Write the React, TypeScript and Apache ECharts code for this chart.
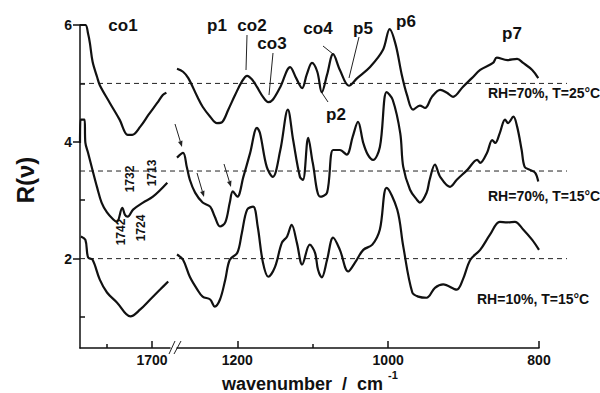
import React, { useEffect, useRef } from "react";
import * as echarts from "echarts";

// ---- data (wavenumber cm^-1, R(v)) ----
const yTickValues = [2, 4, 6];
const yMinorTickValues = [1, 3, 5];
const leftXTicks = [1700];
const leftXMinorTicks = [1750];
const rightXTicks = [1200, 1000, 800];
const rightXMinorTicks = [1100];
const baselines = [5, 3.5, 2];
const curveLabels = ["RH=70%, T=25°C", "RH=70%, T=15°C", "RH=10%, T=15°C"];
const peakLabels = ["co1", "p1", "co2", "co3", "co4", "p5", "p6", "p7", "p2"];
const bandLabels = ["1732", "1713", "1742", "1724"];

const topLeft = [
  [1780, 6.0], [1774, 6.0], [1771, 5.85], [1769, 5.69], [1766, 5.37], [1761, 5.11], [1758, 4.97],
  [1747, 4.67], [1736, 4.38], [1727, 4.12], [1722, 4.12], [1713, 4.26], [1704, 4.46], [1694, 4.67],
  [1688, 4.8], [1684, 4.84],
];
const topRight = [
  [1280, 5.25], [1272, 5.2], [1265, 5.09], [1253, 4.77], [1246, 4.6], [1236, 4.43], [1227, 4.32],
  [1220, 4.34], [1212, 4.55], [1203, 4.8], [1194, 5.03], [1187, 5.13], [1180, 5.06], [1174, 4.94],
  [1166, 4.77], [1159, 4.68], [1153, 4.72], [1143, 4.94], [1130, 5.28], [1122, 5.09], [1114, 4.92],
  [1108, 5.15], [1101, 5.35], [1094, 5.2], [1088, 4.85], [1081, 5.15], [1073, 5.5], [1064, 5.23],
  [1052, 4.96], [1041, 5.09], [1024, 5.28], [1007, 5.57], [998, 5.93], [990, 5.66], [982, 5.15],
  [975, 4.8], [967, 4.55], [958, 4.62], [951, 4.58], [942, 4.77], [931, 4.89], [922, 4.84],
  [914, 4.77], [901, 4.94], [889, 5.09], [878, 5.23], [861, 5.35], [856, 5.44], [842, 5.4],
  [829, 5.42], [821, 5.35], [809, 5.23], [801, 5.09],
];
const midLeft = [
  [1780, 3.98], [1779.5, 4.38], [1775, 4.38], [1774, 3.98], [1771, 3.81], [1767, 3.57], [1761, 3.22],
  [1756, 2.96], [1750, 2.79], [1743, 2.67], [1739, 2.63], [1733, 2.87], [1730, 2.75], [1727, 2.72],
  [1721, 2.84], [1710, 2.96], [1699, 3.06], [1683, 3.3],
];
const midRight = [
  [1280, 3.73], [1272, 3.81], [1267, 3.57], [1263, 3.35], [1256, 3.13], [1246, 2.96], [1236, 2.89],
  [1230, 2.72], [1223, 2.55], [1216, 2.62], [1210, 2.96], [1206, 3.15], [1200, 3.06], [1192, 3.4],
  [1183, 3.81], [1174, 4.24], [1170, 4.15], [1161, 3.57], [1153, 3.4], [1143, 3.86], [1133, 4.55],
  [1126, 4.03], [1117, 3.4], [1113, 3.35], [1106, 4.07], [1100, 3.64], [1090, 3.06], [1081, 3.13],
  [1073, 3.86], [1064, 3.86], [1055, 3.78], [1047, 4.09], [1040, 4.34], [1033, 3.98], [1027, 3.78],
  [1020, 3.69], [1011, 3.91], [1002, 4.85], [994, 4.72], [984, 4.15], [980, 3.57], [971, 3.18],
  [962, 3.01], [958, 2.96], [949, 3.13], [945, 3.35], [938, 3.61], [931, 3.4], [918, 3.23],
  [909, 3.35], [895, 3.52], [882, 3.69], [878, 3.64], [869, 3.81], [862, 4.03], [858, 3.98],
  [852, 4.15], [845, 4.38], [841, 4.32], [834, 4.43], [829, 4.26], [823, 3.86], [819, 3.57],
  [812, 3.52], [805, 3.47], [801, 3.32],
];
const botLeft = [
  [1779, 2.38], [1774, 2.32], [1771, 2.02], [1766, 1.98], [1758, 1.64], [1750, 1.42], [1739, 1.25],
  [1724, 1.01], [1713, 1.13], [1702, 1.3], [1691, 1.47], [1682, 1.61],
];
const botRight = [
  [1280, 2.07], [1272, 1.98], [1263, 1.69], [1253, 1.47], [1246, 1.35], [1236, 1.3], [1230, 1.18],
  [1223, 1.3], [1216, 1.64], [1210, 1.98], [1200, 2.1], [1194, 2.44], [1187, 2.84], [1179, 2.89],
  [1173, 2.55], [1166, 1.93], [1159, 1.69], [1150, 1.86], [1141, 2.27], [1134, 2.38], [1128, 2.58],
  [1121, 2.27], [1114, 1.9], [1104, 2.24], [1097, 2.1], [1093, 1.81], [1088, 1.68], [1081, 1.98],
  [1073, 2.36], [1064, 2.15], [1053, 1.78], [1044, 1.93], [1033, 2.15], [1021, 2.24], [1011, 2.5],
  [1002, 3.21], [988, 2.84], [980, 2.21], [968, 1.42], [960, 1.35], [949, 1.33], [938, 1.5],
  [927, 1.56], [909, 1.47], [901, 1.64], [891, 1.98], [878, 2.15], [865, 2.41], [852, 2.63],
  [842, 2.62], [832, 2.63], [821, 2.5], [809, 2.32], [800, 2.15],
];

const FONT = "'Liberation Sans', Arial, sans-serif";
const INK = "#111";

function arrow(x1: number, y1: number, x2: number, y2: number) {
  const dx = x2 - x1, dy = y2 - y1;
  const len = Math.hypot(dx, dy);
  const ux = dx / len, uy = dy / len;
  const hl = 6, hw = 2.3;
  const bx = x2 - ux * hl, by = y2 - uy * hl;
  return [
    { type: "line", shape: { x1, y1, x2: bx, y2: by }, style: { stroke: "#222", lineWidth: 1 } },
    {
      type: "polygon",
      shape: { points: [[x2, y2], [bx - uy * hw, by + ux * hw], [bx + uy * hw, by - ux * hw]] },
      style: { fill: "#222" },
    },
  ];
}

function txt(text: string, x: number, y: number, size: number, align = "center", rotation = 0) {
  return {
    type: "text",
    x,
    y,
    rotation,
    style: { text, fill: INK, font: `bold ${size}px ${FONT}`, align, verticalAlign: "middle" },
  };
}

function leader(x1: number, y1: number, x2: number, y2: number) {
  return { type: "line", shape: { x1, y1, x2, y2 }, style: { stroke: "#222", lineWidth: 1 } };
}

export default function App() {
  const ref = useRef<HTMLDivElement>(null);
  useEffect(() => {
    if (!ref.current) return;
    const chart = echarts.init(ref.current, null, { renderer: "svg" });
    const YMIN = 0.47, YMAX = 6;
    const leftRect = { left: 80, top: 25, width: 90, height: 323 };
    const rightRect = { left: 177, top: 25, width: 362, height: 323 };
    const dashRect = { left: 80, top: 25, width: 487, height: 323 };
    const axisLine = { show: true, lineStyle: { color: INK, width: 1.5 } };
    const xLabel = {
      color: INK, fontFamily: FONT, fontWeight: "bold", fontSize: 14, margin: 5,
      formatter: (v: number) => String(v),
    };
    const hiddenY = (g: number) => ({ type: "value", gridIndex: g, min: YMIN, max: YMAX, show: false });

    const curve = (data: number[][], xi: number) => ({
      type: "line",
      xAxisIndex: xi,
      yAxisIndex: xi,
      data,
      showSymbol: false,
      smooth: 0.35,
      lineStyle: { color: INK, width: 2.2 },
      silent: true,
    });

    const graphics: any[] = [
      txt("R(ν)", 25, 180, 24, "center", Math.PI / 2),
      {
        type: "text",
        x: 222,
        y: 384,
        style: { text: "wavenumber  /  cm", fill: INK, font: `bold 18px ${FONT}`, align: "left", verticalAlign: "middle" },
      },
      txt("-1", 388, 375, 11, "left"),
      txt(peakLabels[0], 123, 25, 17),
      txt(peakLabels[1], 217, 25, 17),
      txt(peakLabels[2], 252, 25, 17),
      txt(peakLabels[3], 272, 43, 17),
      txt(peakLabels[4], 318, 28, 17),
      txt(peakLabels[5], 363, 28, 17),
      txt(peakLabels[6], 406, 21, 17),
      txt(peakLabels[7], 512, 33, 17),
      txt(peakLabels[8], 336, 114, 17),
      leader(247, 35, 246, 70),
      leader(273, 53, 269, 95),
      leader(323, 46, 333, 54),
      leader(359, 37, 349, 78),
      leader(322, 93, 328, 102),
      txt(curveLabels[0], 488, 93, 14, "left"),
      txt(curveLabels[1], 488, 196, 14, "left"),
      txt(curveLabels[2], 477, 299, 14, "left"),
      txt(bandLabels[0], 130, 179, 12, "center", Math.PI / 2),
      txt(bandLabels[1], 152, 173, 12, "center", Math.PI / 2),
      txt(bandLabels[2], 121, 232, 12, "center", Math.PI / 2),
      txt(bandLabels[3], 141, 228, 12, "center", Math.PI / 2),
      leader(169, 354, 175, 341),
      leader(174, 354, 181, 341),
      ...arrow(175, 124, 182, 147),
      ...arrow(197, 173, 204, 197),
      ...arrow(224, 164, 231, 187),
    ];

    chart.setOption({
      animation: false,
      backgroundColor: "#fff",
      grid: [leftRect, leftRect, rightRect, rightRect, dashRect],
      xAxis: [
        {
          type: "value", gridIndex: 0, min: 1680, max: 1780, inverse: true,
          axisLine, splitLine: { show: false },
          axisTick: { show: true, inside: true, length: 7, customValues: leftXTicks, lineStyle: { color: INK, width: 1.5 } },
          axisLabel: { ...xLabel, customValues: leftXTicks },
        },
        {
          type: "value", gridIndex: 1, min: 1680, max: 1780, inverse: true,
          axisLine: { show: false }, splitLine: { show: false },
          axisTick: { show: true, inside: true, length: 4, customValues: leftXMinorTicks, lineStyle: { color: INK, width: 1.5 } },
          axisLabel: { show: false },
        },
        {
          type: "value", gridIndex: 2, min: 800, max: 1280, inverse: true,
          axisLine, splitLine: { show: false },
          axisTick: { show: true, inside: true, length: 7, customValues: rightXTicks, lineStyle: { color: INK, width: 1.5 } },
          axisLabel: { ...xLabel, customValues: rightXTicks },
        },
        {
          type: "value", gridIndex: 3, min: 800, max: 1280, inverse: true,
          axisLine: { show: false }, splitLine: { show: false },
          axisTick: { show: true, inside: true, length: 4, customValues: rightXMinorTicks, lineStyle: { color: INK, width: 1.5 } },
          axisLabel: { show: false },
        },
        { type: "value", gridIndex: 4, min: 0, max: 1, show: false },
      ],
      yAxis: [
        {
          type: "value", gridIndex: 0, min: YMIN, max: YMAX,
          axisLine, splitLine: { show: false },
          axisTick: { show: true, inside: false, length: 7, customValues: yTickValues, lineStyle: { color: INK, width: 1.5 } },
          axisLabel: { customValues: yTickValues, color: INK, fontFamily: FONT, fontWeight: "bold", fontSize: 14, margin: 8 },
        },
        {
          type: "value", gridIndex: 1, min: YMIN, max: YMAX,
          axisLine: { show: false }, splitLine: { show: false },
          axisTick: { show: true, inside: true, length: 5, customValues: yMinorTickValues, lineStyle: { color: INK, width: 1.5 } },
          axisLabel: { show: false },
        },
        hiddenY(2),
        hiddenY(3),
        hiddenY(4),
      ],
      graphic: graphics,
      series: [
        ...baselines.map((b) => ({
          type: "line",
          xAxisIndex: 4,
          yAxisIndex: 4,
          data: [[0, b], [1, b]],
          showSymbol: false,
          silent: true,
          lineStyle: { color: "#222", width: 1, type: [5, 4] },
        })),
        curve(topLeft, 0),
        curve(midLeft, 0),
        curve(botLeft, 0),
        curve(topRight, 2),
        curve(midRight, 2),
        curve(botRight, 2),
      ],
    });
    return () => chart.dispose();
  }, []);
  return <div ref={ref} style={{ position: "fixed", left: 0, top: 0, width: 600, height: 393, background: "#fff" }} />;
}
